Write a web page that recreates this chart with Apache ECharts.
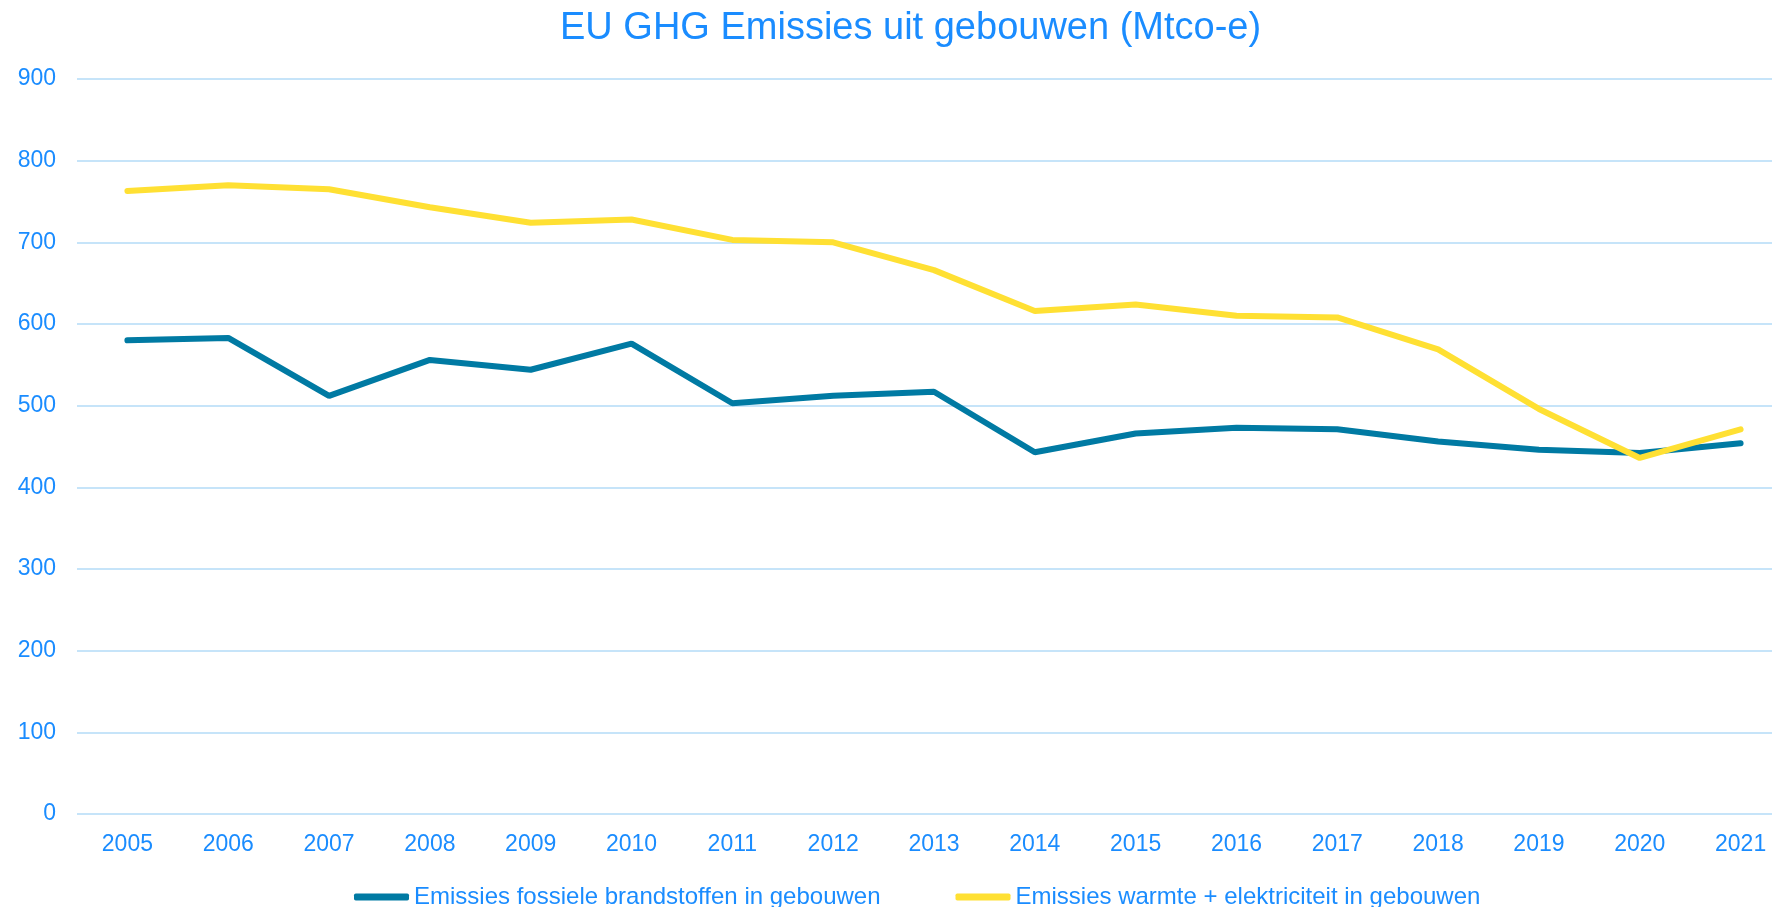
<!DOCTYPE html>
<html>
<head>
<meta charset="utf-8">
<title>EU GHG Emissies uit gebouwen</title>
<script src="https://cdn.jsdelivr.net/npm/echarts@6/dist/echarts.min.js"></script>
<style>
html,body{margin:0;padding:0;background:#fff;}
#chart{width:1772px;height:907px;}
</style>
</head>
<body>
<div id="chart"></div>
<script>
// data
var years = ['2005','2006','2007','2008','2009','2010','2011','2012','2013','2014','2015','2016','2017','2018','2019','2020','2021'];
var fossiel = [580, 583, 512, 556, 544, 576, 503, 512, 517, 443, 466, 473, 471, 456, 446, 442, 454];
var warmte = [763, 770, 765, 743, 724, 728, 703, 700, 666, 616, 624, 610, 608, 569, 496, 436, 471];
var seriesNames = ['Emissies fossiele brandstoffen in gebouwen', 'Emissies warmte + elektriciteit in gebouwen'];

var txt = '#1A8CFF';
var font = 'Liberation Sans, Arial, sans-serif';

var myChart = echarts.init(document.getElementById('chart'));
var option = {
  animation: false,
  title: {
    text: 'EU GHG Emissies uit gebouwen (Mtco-e)',
    left: 555,
    top: 5,
    textStyle: {color: txt, fontSize: 38, fontWeight: 'normal', fontFamily: font}
  },
  legend: {
    data: seriesNames,
    left: 349,
    top: 880,
    icon: 'roundRect',
    itemWidth: 55,
    itemHeight: 7,
    itemGap: 75,
    textStyle: {color: txt, fontSize: 24, fontFamily: font}
  },
  // plot runs past the right edge, like the cropped original
  grid: {
    left: 77,
    width: 1714,
    top: 79,
    bottom: 93,
    outerBoundsMode: 'none',
    containLabel: false
  },
  xAxis: {
    type: 'category',
    data: years,
    boundaryGap: true,
    axisLine: {show: false},
    axisTick: {show: false},
    axisLabel: {color: txt, fontSize: 23, fontFamily: font, margin: 19}
  },
  yAxis: {
    type: 'value',
    min: 0,
    max: 900,
    interval: 100,
    axisLine: {show: false},
    axisTick: {show: false},
    axisLabel: {color: txt, fontSize: 23, fontFamily: font, margin: 21},
    splitLine: {lineStyle: {color: '#C6E4F9', width: 2}}
  },
  series: [{
    name: seriesNames[0],
    type: 'line',
    data: fossiel,
    symbol: 'none',
    itemStyle: {color: '#007AA3'},
    lineStyle: {color: '#007AA3', width: 6, cap: 'round'}
  }, {
    name: seriesNames[1],
    type: 'line',
    data: warmte,
    symbol: 'none',
    itemStyle: {color: '#FFE033'},
    lineStyle: {color: '#FFE033', width: 6, cap: 'round'}
  }]
};
myChart.setOption(option);
window.addEventListener("resize",function(){
  myChart.resize();
});
</script>
</body>
</html>
